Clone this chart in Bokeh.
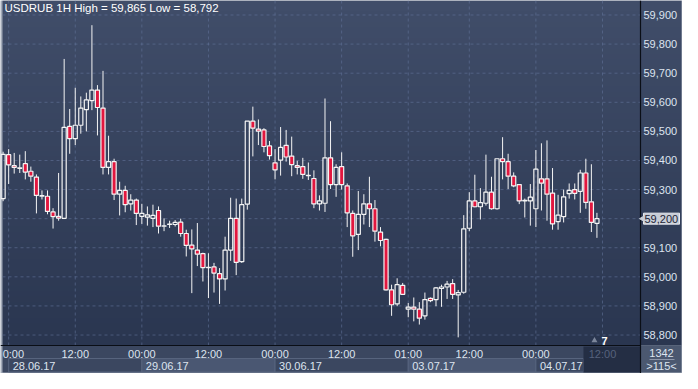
import numpy as np
from bokeh.plotting import figure
from bokeh.models import Range1d, LinearColorMapper, ColumnDataSource
from bokeh.core.properties import value
from bokeh.embed import file_html
from bokeh.resources import INLINE

# ---------------- data (hourly candles, index 0 = 28.06.17 00:00) ----------------
idx = list(range(-1, 107))
open_ = [59269, 59420, 59382, 59373, 59389, 59363, 59343, 59277, 59277, 59223,
         59208, 59201, 59517, 59475, 59521, 59575, 59606, 59642, 59580, 59376,
         59396, 59284, 59297, 59251, 59264, 59208, 59205, 59201, 59228, 59174,
         59180, 59180, 59188, 59149, 59109, 59092, 59080, 59032, 59034, 59011,
         58993, 59092, 59201, 59052, 59250, 59535, 59508, 59505, 59450, 59392,
         59401, 59452, 59415, 59382, 59379, 59348, 59338, 59251, 59253, 59409,
         59317, 59379, 59313, 59218, 59146, 59215, 59251, 59234, 59154, 59129,
         58955, 58907, 58971, 58889, 58896, 58889, 58866, 58926, 58922, 58960,
         58965, 58977, 58938, 58947, 59167, 59261, 59241, 59253, 59291, 59234,
         59406, 59396, 59346, 59317, 59261, 59261, 59234, 59337, 59337, 59288,
         59190, 59207, 59286, 59300, 59294, 59357, 59258, 59184]
high = [59430, 59439, 59426, 59420, 59432, 59379, 59352, 59297, 59297, 59236,
        59357, 59749, 59577, 59650, 59620, 59633, 59865, 59659, 59708, 59485,
        59406, 59327, 59313, 59284, 59269, 59251, 59242, 59248, 59242, 59201,
        59193, 59195, 59200, 59162, 59163, 59185, 59083, 59081, 59048, 59030,
        59138, 59272, 59269, 59269, 59535, 59585, 59541, 59511, 59467, 59439,
        59515, 59505, 59482, 59399, 59409, 59393, 59366, 59280, 59613, 59535,
        59387, 59428, 59321, 59228, 59295, 59284, 59344, 59264, 59171, 59131,
        58973, 58995, 58979, 58910, 58929, 58913, 58946, 58929, 58965, 58973,
        58986, 58992, 58955, 59212, 59291, 59351, 59305, 59420, 59344, 59406,
        59480, 59423, 59359, 59317, 59269, 59319, 59436, 59459, 59469, 59374,
        59282, 59300, 59321, 59321, 59368, 59406, 59387, 59220]
low = [59260, 59319, 59355, 59357, 59335, 59327, 59218, 59266, 59215, 59166,
       59193, 59200, 59423, 59453, 59492, 59500, 59573, 59486, 59352, 59352,
       59264, 59211, 59222, 59228, 59178, 59182, 59176, 59171, 59149, 59157,
       59168, 59173, 59138, 59070, 58944, 59037, 58984, 58927, 58946, 58907,
       58953, 59055, 59006, 59048, 59231, 59414, 59453, 59428, 59403, 59335,
       59348, 59396, 59346, 59352, 59337, 59333, 59236, 59228, 59223, 59302,
       59275, 59300, 59171, 59069, 59092, 59180, 59171, 59121, 59105, 58953,
       58866, 58899, 58938, 58861, 58847, 58836, 58853, 58913, 58899, 58897,
       58924, 58924, 58792, 58942, 59157, 59239, 59197, 59245, 59231, 59231,
       59335, 59302, 59308, 59250, 59204, 59176, 59171, 59228, 59193, 59162,
       59162, 59187, 59269, 59266, 59220, 59234, 59154, 59134]
close = [59421, 59385, 59376, 59375, 59360, 59346, 59280, 59279, 59225, 59207,
         59202, 59514, 59475, 59521, 59580, 59608, 59642, 59582, 59376, 59396,
         59284, 59297, 59248, 59264, 59218, 59218, 59213, 59211, 59174, 59175,
         59181, 59187, 59149, 59108, 59096, 59078, 59032, 59033, 59013, 58993,
         59092, 59201, 59050, 59248, 59535, 59511, 59501, 59448, 59417, 59368,
         59445, 59412, 59386, 59376, 59352, 59349, 59251, 59261, 59409, 59317,
         59376, 59317, 59220, 59141, 59215, 59251, 59234, 59157, 59125, 58955,
         58904, 58973, 58940, 58896, 58889, 58858, 58922, 58918, 58962, 58965,
         58975, 58940, 58946, 59165, 59261, 59241, 59255, 59291, 59234, 59406,
         59396, 59346, 59313, 59261, 59263, 59274, 59370, 59322, 59284, 59182,
         59212, 59275, 59297, 59287, 59357, 59256, 59187, 59200]

time_ticks = [0, 12, 24, 36, 48, 60, 72, 83, 95]
time_labels = ["0:00", "12:00", "00:00", "12:00", "00:00", "12:00", "01:00", "12:00", "00:00"]
future_tick = 107
future_label = "12:00"
day_starts = [0, 24, 48, 72, 95]
day_ends = [24, 48, 72, 95, 103.6]
day_labels = ["28.06.17", "29.06.17", "30.06.17", "03.07.17", "04.07.17"]
price_ticks = list(range(58800, 60000, 100))
symbol = "USDRUB 1H"
bars_count = "1342"
bars_visible = ">115<"
marker_count = "7"

# ---------------- layout ----------------
W, H = 682, 373
PX_L, PX_R, PX_T, PX_B = 2, 42, 2, 28
X_LO, X_HI = -1.11, 113.85
Y_LO, Y_HI = 58764, 59943
ppu = (W - PX_L - PX_R) / (X_HI - X_LO)
ppy = (H - PX_T - PX_B) / (Y_HI - Y_LO)


def dx(px):
    return px / ppu


def dy(px):
    return px / ppy


XR0, XR1 = X_LO - dx(PX_L), X_HI + dx(PX_R)
YR0, YR1 = Y_LO - dy(PX_B), Y_HI + dy(PX_T)

FONT = value("Liberation Sans")
FS = value("11px")
TXT = "#dde4ef"
RED = "#e2173f"
WHITE = "#f4f4f4"
GRID = "#63739a"

p = figure(width=W, height=H, output_backend="svg", toolbar_location=None,
           x_range=Range1d(XR0, XR1), y_range=Range1d(YR0, YR1),
           x_axis_location=None, y_axis_location=None,
           min_border_left=0, min_border_right=0, min_border_top=0, min_border_bottom=0)
p.background_fill_color = "#a3abb9"
p.border_fill_color = "#a3abb9"
p.outline_line_color = None
p.xgrid.visible = False
p.ygrid.visible = False

# background gradient over plot area and price scale
top_c = np.array([64, 77, 105])
bot_c = np.array([42, 54, 80])
n = 64
pal = ["#%02x%02x%02x" % tuple(int(round(v)) for v in bot_c + (top_c - bot_c) * t)
       for t in np.linspace(0, 1, n)]
mapper = LinearColorMapper(palette=pal, low=0, high=1)
grad = np.linspace(0, 1, n).reshape(n, 1)
p.image(image=[grad], x=X_LO, y=Y_LO, dw=XR1 - dx(1) - X_LO, dh=YR1 - Y_LO,
        color_mapper=mapper)

# bottom time scale panel
p.quad(left=X_LO, right=X_HI, top=Y_LO, bottom=YR0 + dy(1), fill_color="#3b4760", line_color=None)
# date bands
band_src = ColumnDataSource(dict(
    left=day_starts, right=day_ends,
    color=["#4a5772" if k % 2 else "#3b4760" for k in range(len(day_starts))]))
p.quad(left="left", right="right", top=Y_LO - dy(13), bottom=YR0 + dy(1.5),
       fill_color="color", line_color="#57647e", line_width=1, source=band_src)
# future area box
p.quad(left=future_tick - dx(19), right=X_HI, top=Y_LO - dy(1), bottom=YR0 + dy(1),
       fill_color="#242e44", line_color=None)
# info box
p.quad(left=X_HI, right=XR1 - dx(1), top=Y_LO, bottom=YR0 + dy(1),
       fill_color="#4b5870", line_color=None)
p.segment(x0=X_HI + dx(9), y0=Y_LO - dy(14), x1=XR1 - dx(8), y1=Y_LO - dy(14),
          line_color="#8d97aa", line_width=1)

# grid lines
p.segment(x0=X_LO, y0=price_ticks, x1=X_HI, y1=price_ticks,
          line_color=GRID, line_alpha=0.6, line_dash="3 3", line_width=1)
vt = time_ticks + [future_tick]
p.segment(x0=vt, y0=Y_LO, x1=vt, y1=YR1,
          line_color=GRID, line_alpha=0.6, line_dash="3 3", line_width=1)

# axis lines
p.segment(x0=X_HI, y0=YR0, x1=X_HI, y1=YR1, line_color="#0a0e16", line_width=1.2)
p.segment(x0=XR0, y0=Y_LO, x1=X_HI, y1=Y_LO, line_color="#0a0e16", line_width=1.2)

# candles
x = np.array(idx, dtype=float)
o = np.array(open_, dtype=float)
h = np.array(high, dtype=float)
l = np.array(low, dtype=float)
c = np.array(close, dtype=float)
btop = np.maximum(o, c)
bbot = np.minimum(o, c)
up = c >= o
src = ColumnDataSource(dict(x=x, h=h, l=l, btop=btop, bbot=bbot))
p.segment(x0="x", y0="h", x1="x", y1="btop", source=src, line_color=WHITE, line_width=1)
p.segment(x0="x", y0="bbot", x1="x", y1="l", source=src, line_color=WHITE, line_width=1)
p.vbar(x=x[up], top=btop[up], bottom=bbot[up], width=0.74,
       fill_alpha=0, line_color=WHITE, line_width=1.2)
p.vbar(x=x[~up], top=btop[~up], bottom=bbot[~up], width=0.74,
       fill_color=RED, line_color=WHITE, line_width=1.2)

# price scale labels
p.text(x=X_HI, y=price_ticks, text=[f"{t:,}" for t in price_ticks], x_offset=3,
       text_align="left", text_baseline="middle", text_color=TXT,
       text_font=FONT, text_font_size=FS)

# current price tag
last = close[-1]
p.quad(left=X_HI + dx(3), right=XR1 - dx(3), top=last + dy(5.5), bottom=last - dy(5.5),
       fill_color="#c8cdd6", line_color="#e6e9ee", line_width=1)
p.scatter(x=[X_HI + dx(3)], y=[last], marker="triangle", angle=np.pi / 2, size=7,
          fill_color="#c8cdd6", line_color="#c8cdd6")
p.text(x=[X_HI], y=[last], text=[f"{last:,}"], x_offset=4, text_align="left",
       text_baseline="middle", text_color="#1c2436", text_font=FONT, text_font_size=FS)

# time labels (first one sits at the left edge, so it is left-aligned)
p.text(x=time_ticks[:1], y=Y_LO, text=time_labels[:1], x_offset=-6, y_offset=8,
       text_align="left", text_baseline="middle", text_color=TXT,
       text_font=FONT, text_font_size=FS)
p.text(x=time_ticks[1:], y=Y_LO, text=time_labels[1:], y_offset=8, text_align="center",
       text_baseline="middle", text_color=TXT, text_font=FONT, text_font_size=FS)
p.text(x=[future_tick], y=Y_LO, text=[future_label], y_offset=8, text_align="center",
       text_baseline="middle", text_color="#56627c", text_font=FONT, text_font_size=FS)
# date labels
p.text(x=day_starts, y=Y_LO, text=day_labels, x_offset=4, y_offset=20.5, text_align="left",
       text_baseline="middle", text_color=TXT, text_font=FONT, text_font_size=FS)

# info box texts
p.text(x=[X_HI], y=[Y_LO], text=[bars_count], x_offset=PX_R / 2, y_offset=7.5,
       text_align="center", text_baseline="middle", text_color=TXT,
       text_font=FONT, text_font_size=FS)
p.text(x=[X_HI], y=[Y_LO], text=[bars_visible], x_offset=PX_R / 2, y_offset=20.5,
       text_align="center", text_baseline="middle", text_color=TXT,
       text_font=FONT, text_font_size=FS)

# marker count above future label
p.scatter(x=[future_tick - dx(8)], y=[Y_LO + dy(5)], marker="triangle", size=6,
          fill_color="#7c869b", line_color=None)
p.text(x=[future_tick], y=[Y_LO], text=[marker_count], x_offset=2, y_offset=-1,
       text_align="center", text_baseline="bottom", text_color="#ffffff",
       text_font=FONT, text_font_size=FS, text_font_style="bold")

# title
title = f"{symbol} High = {max(high):,} Low = {min(low):,}"
p.text(x=[X_LO], y=[Y_HI], text=[title], x_offset=2, y_offset=-1, text_align="left",
       text_baseline="top", text_color="#ffffff", text_font=FONT,
       text_font_size=value("11.5px"))

open("out.html", "w").write(file_html(p, INLINE))
